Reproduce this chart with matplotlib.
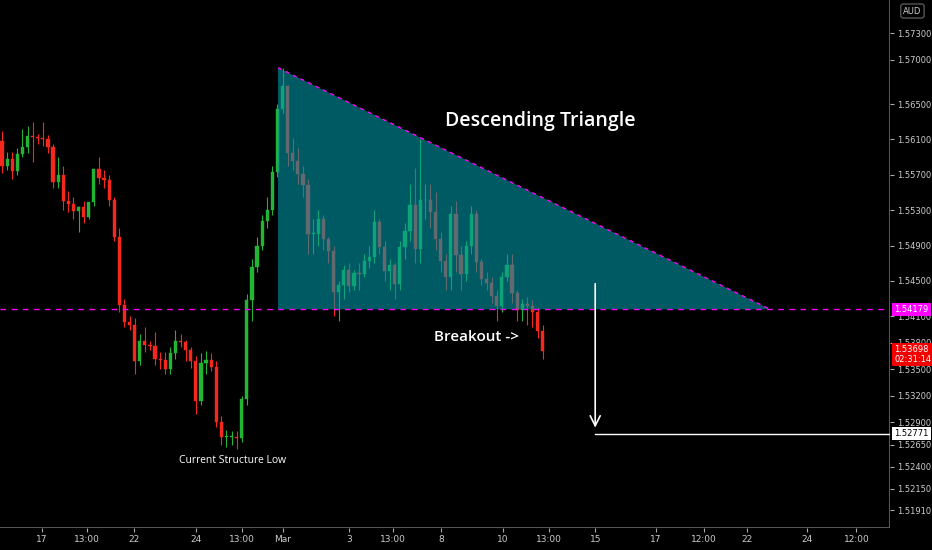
import matplotlib
matplotlib.use("Agg")
import matplotlib.pyplot as plt
from matplotlib.patches import Polygon

# candle data (AUD pair, hourly-ish)
opens = [1.5608, 1.5580, 1.5588, 1.5574, 1.5593, 1.5601, 1.5614, 1.5613, 1.5612, 1.5611,
         1.5601, 1.5562, 1.5570, 1.5540, 1.5537, 1.5529, 1.5534, 1.5522, 1.5539, 1.5577,
         1.5566, 1.5564, 1.5542, 1.5500, 1.5423, 1.5404, 1.5400, 1.5359, 1.5382, 1.5378,
         1.5377, 1.5362, 1.5361, 1.5350, 1.5368, 1.5382, 1.5381, 1.5372, 1.5359, 1.5314,
         1.5357, 1.5361, 1.5353, 1.5291, 1.5274, 1.5274, 1.5274, 1.5272, 1.5316, 1.5429,
         1.5466, 1.5490, 1.5518, 1.5530, 1.5573, 1.5644, 1.5670, 1.5595, 1.5586, 1.5571,
         1.5558, 1.5503, 1.5503, 1.5520, 1.5497, 1.5484, 1.5438, 1.5445, 1.5462, 1.5444,
         1.5459, 1.5458, 1.5473, 1.5477, 1.5517, 1.5488, 1.5461, 1.5468, 1.5447, 1.5488,
         1.5506, 1.5536, 1.5486, 1.5541, 1.5542, 1.5528, 1.5497, 1.5473, 1.5455, 1.5526,
         1.5479, 1.5458, 1.5489, 1.5526, 1.5471, 1.5452, 1.5448, 1.5433, 1.5422, 1.5454,
         1.5468, 1.5436, 1.5417, 1.5424, 1.5422, 1.5415, 1.5393]
closes = [1.5580, 1.5588, 1.5574, 1.5593, 1.5601, 1.5614, 1.5613, 1.5612, 1.5611, 1.5601,
          1.5562, 1.5570, 1.5540, 1.5537, 1.5529, 1.5534, 1.5522, 1.5539, 1.5577, 1.5566,
          1.5564, 1.5542, 1.5500, 1.5423, 1.5404, 1.5400, 1.5359, 1.5382, 1.5378, 1.5377,
          1.5362, 1.5361, 1.5350, 1.5368, 1.5382, 1.5381, 1.5372, 1.5359, 1.5314, 1.5357,
          1.5361, 1.5353, 1.5291, 1.5274, 1.5274, 1.5274, 1.5272, 1.5316, 1.5429, 1.5466,
          1.5490, 1.5518, 1.5530, 1.5573, 1.5644, 1.5670, 1.5595, 1.5586, 1.5571, 1.5558,
          1.5503, 1.5503, 1.5520, 1.5497, 1.5484, 1.5438, 1.5445, 1.5462, 1.5444, 1.5459,
          1.5458, 1.5473, 1.5477, 1.5517, 1.5488, 1.5461, 1.5468, 1.5447, 1.5488, 1.5506,
          1.5536, 1.5486, 1.5541, 1.5542, 1.5528, 1.5497, 1.5473, 1.5455, 1.5526, 1.5479,
          1.5458, 1.5489, 1.5526, 1.5471, 1.5452, 1.5448, 1.5433, 1.5422, 1.5454, 1.5468,
          1.5436, 1.5417, 1.5424, 1.5422, 1.5415, 1.5393, 1.5371]
highs = [1.5620, 1.5596, 1.5596, 1.5600, 1.5622, 1.5625, 1.5630, 1.5616, 1.5630, 1.5615,
         1.5605, 1.5590, 1.5580, 1.5552, 1.5545, 1.5535, 1.5540, 1.5530, 1.5542, 1.5590,
         1.5575, 1.5570, 1.5545, 1.5510, 1.5430, 1.5410, 1.5408, 1.5390, 1.5398, 1.5382,
         1.5392, 1.5370, 1.5370, 1.5375, 1.5395, 1.5390, 1.5383, 1.5375, 1.5365, 1.5368,
         1.5371, 1.5368, 1.5360, 1.5297, 1.5282, 1.5280, 1.5280, 1.5320, 1.5435, 1.5475,
         1.5500, 1.5525, 1.5545, 1.5580, 1.5650, 1.5691, 1.5672, 1.5612, 1.5600, 1.5580,
         1.5565, 1.5520, 1.5530, 1.5525, 1.5500, 1.5490, 1.5450, 1.5468, 1.5470, 1.5462,
         1.5470, 1.5480, 1.5490, 1.5530, 1.5520, 1.5495, 1.5475, 1.5470, 1.5495, 1.5515,
         1.5560, 1.5578, 1.5610, 1.5560, 1.5560, 1.5550, 1.5505, 1.5480, 1.5535, 1.5540,
         1.5490, 1.5495, 1.5535, 1.5530, 1.5475, 1.5460, 1.5455, 1.5440, 1.5460, 1.5480,
         1.5480, 1.5440, 1.5430, 1.5432, 1.5428, 1.5420, 1.5400]
lows = [1.5572, 1.5575, 1.5565, 1.5570, 1.5590, 1.5595, 1.5585, 1.5605, 1.5602, 1.5595,
        1.5555, 1.5555, 1.5530, 1.5528, 1.5520, 1.5505, 1.5515, 1.5520, 1.5535, 1.5560,
        1.5555, 1.5535, 1.5495, 1.5415, 1.5398, 1.5395, 1.5345, 1.5355, 1.5370, 1.5372,
        1.5355, 1.5350, 1.5345, 1.5345, 1.5362, 1.5375, 1.5360, 1.5352, 1.5300, 1.5310,
        1.5345, 1.5348, 1.5285, 1.5265, 1.5262, 1.5265, 1.5260, 1.5268, 1.5310, 1.5405,
        1.5460, 1.5485, 1.5510, 1.5525, 1.5568, 1.5640, 1.5580, 1.5575, 1.5560, 1.5545,
        1.5480, 1.5480, 1.5490, 1.5485, 1.5470, 1.5410, 1.5405, 1.5430, 1.5438, 1.5440,
        1.5440, 1.5455, 1.5465, 1.5470, 1.5480, 1.5450, 1.5440, 1.5430, 1.5440, 1.5475,
        1.5495, 1.5470, 1.5470, 1.5520, 1.5510, 1.5485, 1.5460, 1.5440, 1.5440, 1.5460,
        1.5440, 1.5450, 1.5480, 1.5460, 1.5445, 1.5440, 1.5425, 1.5405, 1.5415, 1.5450,
        1.5425, 1.5405, 1.5405, 1.5400, 1.5398, 1.5385, 1.5362]

# axis labels
x_tick_pos = [7.84, 16.67, 25.9, 38.0, 47.1, 55.1, 68.0, 76.7, 86.1, 98.2, 107.3,
              116.3, 128.2, 137.6, 146.1, 157.8, 167.5]
x_tick_labels = ["17", "13:00", "22", "24", "13:00", "Mar", "3", "13:00", "8", "10",
                 "13:00", "15", "17", "12:00", "22", "24", "12:00"]
y_ticks = [1.57300, 1.57000, 1.56500, 1.56100, 1.55700, 1.55300, 1.54900, 1.54500,
           1.54100, 1.53800, 1.53500, 1.53200, 1.52900, 1.52650, 1.52400, 1.52150, 1.51910]

support = 1.54179
tri_start, tri_top, tri_end = 54.1, 1.5691, 150.6
last_price = 1.53698
target = 1.52771
arrow_x, arrow_top, arrow_bot = 116.3, 1.5450, 1.5281

GREEN = "#22b535"
RED = "#f5281e"

fig = plt.figure(figsize=(9.32, 5.5), dpi=100, facecolor="black")
ax = fig.add_axes([0, 22 / 550, 890 / 932, 1 - 22 / 550])
ax.set_facecolor("black")

for i in range(len(closes)):
    o, c, h, l = opens[i], closes[i], highs[i], lows[i]
    col = GREEN if c >= o else RED
    ax.vlines(i, l, h, color=col, lw=0.8, zorder=2)
    bot, ht = min(o, c), max(abs(c - o), 0.00008)
    ax.bar(i, ht, 0.62, bottom=bot, color=col, edgecolor=col, lw=0.3, zorder=3)

# triangle overlay
tri = Polygon([[tri_start, tri_top], [tri_end, support], [tri_start, support]],
              closed=True, facecolor="#0097a7", alpha=0.6, edgecolor="none", zorder=4)
ax.add_patch(tri)
ax.plot([tri_start, tri_end], [tri_top, support], color="#ff00ff", lw=1, ls=(0, (3, 3)), zorder=5)
ax.axhline(support, color="#ff00ff", lw=1, ls=(0, (4, 4)), zorder=5)

# projection arrow + target line
ax.annotate("", xy=(arrow_x, arrow_bot), xytext=(arrow_x, arrow_top),
            arrowprops=dict(arrowstyle="->", color="white", lw=1.2, mutation_scale=18), zorder=6)
ax.plot([arrow_x, 175], [target, target], color="white", lw=1, zorder=6)

ax.text(105.5, 1.5631, "Descending Triangle", color="white", fontsize=14,
        ha="center", va="center", fontfamily="Open Sans", fontweight="semibold")
ax.text(93, 1.5387, "Breakout ->", color="white", fontsize=11,
        ha="center", va="center", fontfamily="Open Sans", fontweight="semibold")
ax.text(45.1, 1.5247, "Current Structure Low", color="white", fontsize=7.5,
        ha="center", va="center", fontfamily="Open Sans")

ax.set_xlim(-0.4, 174.1)
ax.set_ylim(1.51707, 1.57676)
for s in ax.spines.values():
    s.set_visible(False)
ax.axvline(174.1, color="#555555", lw=1.5)
ax.axhline(1.51707, color="#555555", lw=1.5)

ax.yaxis.tick_right()
ax.set_yticks(y_ticks)
ax.set_yticklabels(["%.5f" % v for v in y_ticks])
ax.tick_params(axis="y", colors="#aaaaaa", labelsize=6, length=3, pad=2)
ax.set_xticks(x_tick_pos)
ax.set_xticklabels(x_tick_labels)
ax.tick_params(axis="x", colors="#aaaaaa", labelsize=6.5, length=3, pad=2)
for t in ax.get_yticklabels() + ax.get_xticklabels():
    t.set_color("#cccccc")

# price tags on the right axis
def tag(y, s, fc, tc):
    ax.text(1.005, y, s, transform=ax.get_yaxis_transform(), color=tc, fontsize=6,
            va="center", ha="left", zorder=10,
            bbox=dict(boxstyle="square,pad=0.25", fc=fc, ec="none"))

tag(support, "%.5f" % support, "#ff00ff", "white")
tag(last_price - 0.0003, "%.5f\n02:31:14" % last_price, "#f20000", "white")
tag(target, "%.5f" % target, "white", "black")
fig.text(0.979, 0.98, "AUD", color="#cccccc", fontsize=6, ha="center", va="center",
         bbox=dict(boxstyle="round,pad=0.3", fc="black", ec="#555555"))

fig.savefig("out.png", dpi=100, facecolor="black")
